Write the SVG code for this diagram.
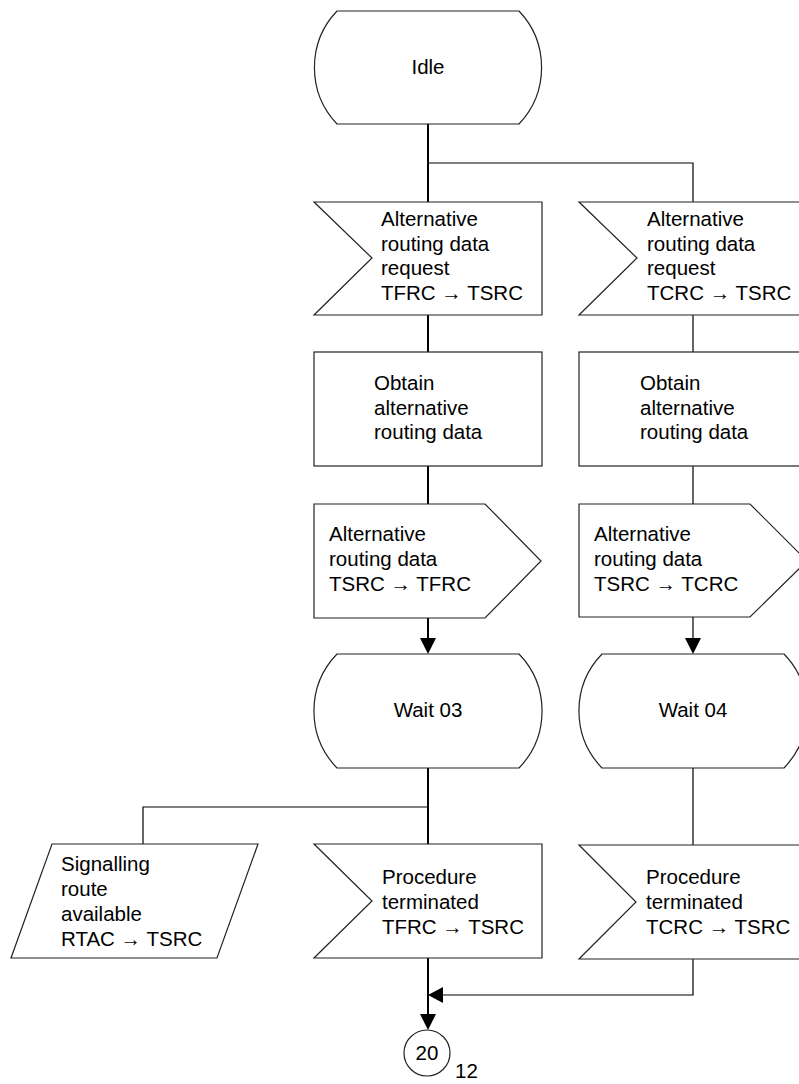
<svg xmlns="http://www.w3.org/2000/svg" width="799" height="1084" viewBox="0 0 799 1084">
<style>
.shape{fill:#fff;stroke:#222;stroke-width:1.2}
.t{font-family:"Liberation Sans",Arial,sans-serif;font-size:20.5px;fill:#000}
.c{text-anchor:middle}
.w2{stroke:#000;stroke-width:2;fill:none}
.w1{stroke:#000;stroke-width:1.2;fill:none}
.ah{fill:#000;stroke:none}
</style>
<rect width="799" height="1084" fill="#fff"/>
<g id="connectors">
  <path class="w2" d="M428 124V202M428 315V352M428 466V504M428 618V640M428 768V844M428 958V1016"/>
  <path class="w1" d="M428 163H693V202M693 315V352M693 466V504M693 617V640M693 768V845M693 959V995H441M428 807H143V844"/>
  <polygon class="ah" points="420,638 436,638 428,654"/>
  <polygon class="ah" points="685,638 701,638 693,654"/>
  <polygon class="ah" points="443,987 443,1003 428,995"/>
  <polygon class="ah" points="420,1014 436,1014 428,1030"/>
</g>
<g id="idle">
  <path class="shape" d="M337 11H519A82 82 0 0 1 519 124H337A82 82 0 0 1 337 11Z"/>
  <text class="t c" x="428" y="74">Idle</text>
</g>
<g id="input1">
  <polygon class="shape" points="314,202 542,202 542,315 314,315 372,258"/>
  <text class="t" x="381" y="226">Alternative</text>
  <text class="t" x="381" y="251">routing data</text>
  <text class="t" x="381" y="275">request</text>
  <text class="t" x="381" y="300">TFRC → TSRC</text>
</g>
<g id="input2">
  <polygon class="shape" points="579,202 810,202 810,315 579,315 637,258"/>
  <text class="t" x="647" y="226">Alternative</text>
  <text class="t" x="647" y="251">routing data</text>
  <text class="t" x="647" y="275">request</text>
  <text class="t" x="647" y="300">TCRC → TSRC</text>
</g>
<g id="task1">
  <rect class="shape" x="314" y="352" width="228" height="114"/>
  <text class="t" x="374" y="390">Obtain</text>
  <text class="t" x="374" y="415">alternative</text>
  <text class="t" x="374" y="439">routing data</text>
</g>
<g id="task2">
  <rect class="shape" x="579" y="352" width="232" height="114"/>
  <text class="t" x="640" y="390">Obtain</text>
  <text class="t" x="640" y="415">alternative</text>
  <text class="t" x="640" y="439">routing data</text>
</g>
<g id="output1">
  <polygon class="shape" points="314,504 485,504 541,561 485,618 314,618"/>
  <text class="t" x="329" y="541">Alternative</text>
  <text class="t" x="329" y="566">routing data</text>
  <text class="t" x="329" y="591">TSRC → TFRC</text>
</g>
<g id="output2">
  <polygon class="shape" points="579,504 750,504 807,561 750,617 579,617"/>
  <text class="t" x="594" y="541">Alternative</text>
  <text class="t" x="594" y="566">routing data</text>
  <text class="t" x="594" y="591">TSRC → TCRC</text>
</g>
<g id="wait03">
  <path class="shape" d="M337 654H519A82 82 0 0 1 519 768H337A82 82 0 0 1 337 654Z"/>
  <text class="t c" x="428" y="717">Wait 03</text>
</g>
<g id="wait04">
  <path class="shape" d="M602 654H784A82 82 0 0 1 784 768H602A82 82 0 0 1 602 654Z"/>
  <text class="t c" x="693" y="717">Wait 04</text>
</g>
<g id="signalling">
  <polygon class="shape" points="52,844 258,844 217,958 11,958"/>
  <text class="t" x="61" y="871">Signalling</text>
  <text class="t" x="61" y="896">route</text>
  <text class="t" x="61" y="921">available</text>
  <text class="t" x="61" y="946">RTAC → TSRC</text>
</g>
<g id="proc1">
  <polygon class="shape" points="314,844 542,844 542,958 314,958 372,901"/>
  <text class="t" x="382" y="884">Procedure</text>
  <text class="t" x="382" y="909">terminated</text>
  <text class="t" x="382" y="934">TFRC → TSRC</text>
</g>
<g id="proc2">
  <polygon class="shape" points="579,845 810,845 810,959 579,959 636,902"/>
  <text class="t" x="646" y="884">Procedure</text>
  <text class="t" x="646" y="909">terminated</text>
  <text class="t" x="646" y="934">TCRC → TSRC</text>
</g>
<g id="connector20">
  <circle class="shape" cx="427" cy="1053" r="23"/>
  <text class="t c" x="427" y="1060">20</text>
  <text class="t" x="455" y="1078">12</text>
</g>
</svg>
